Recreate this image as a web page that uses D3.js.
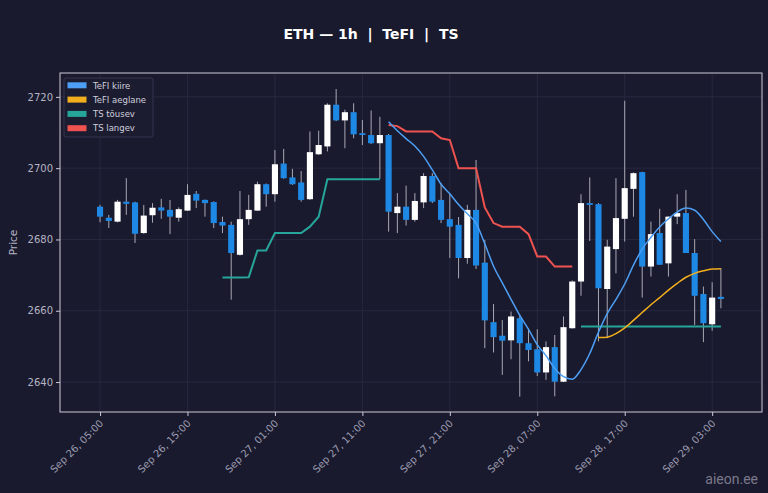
<!DOCTYPE html>
<html>
<head>
<meta charset="utf-8">
<script src="https://cdn.jsdelivr.net/npm/d3@7"></script>
<style>
  html, body { margin: 0; padding: 0; background: #1a1a2e; }
  svg { display: block; font-family: "DejaVu Sans", sans-serif; }
</style>
</head>
<body>
<svg id="chart" width="768" height="493"></svg>
<script>
// hourly candles, starting Sep 26 05:00
const opens  = [2689.2,2686.1,2685.0,2690.6,2690.4,2681.8,2686.8,2689.0,2688.3,2686.1,2688.1,2692.8,2691.1,2690.5,2684.9,2684.1,2675.7,2685.7,2688.1,2695.5,2692.7,2701.3,2697.4,2696.0,2691.3,2703.9,2706.1,2717.8,2713.4,2715.7,2709.8,2709.3,2707.0,2709.3,2687.4,2689.2,2685.5,2690.4,2697.8,2691.1,2685.7,2684.1,2674.8,2688.3,2673.5,2656.8,2653.0,2651.7,2657.9,2650.9,2649.2,2642.7,2649.8,2640.1,2655.1,2668.2,2690.2,2689.9,2666.1,2677.3,2685.8,2694.2,2698.9,2672.4,2681.8,2673.3,2686.4,2687.4,2676.2,2664.7,2656.2,2663.9];
const highs  = [2689.7,2686.9,2691.1,2697.2,2690.6,2689.7,2690.2,2691.4,2691.1,2689.0,2695.5,2693.6,2691.2,2690.7,2686.4,2685.0,2693.6,2692.5,2696.2,2695.7,2705.1,2705.4,2699.8,2699.2,2710.3,2710.5,2718.2,2722.2,2716.4,2718.2,2713.5,2716.2,2714.4,2709.6,2693.0,2695.1,2693.0,2698.6,2698.6,2695.8,2692.8,2686.3,2689.7,2702.3,2679.9,2661.9,2657.4,2659.8,2658.9,2655.1,2654.8,2651.4,2653.2,2658.4,2668.5,2692.7,2697.4,2690.2,2679.9,2697.2,2718.9,2698.8,2699.0,2685.0,2688.6,2686.5,2692.7,2693.9,2680.1,2666.8,2668.0,2672.0];
const lows   = [2684.8,2683.2,2684.8,2686.9,2679.0,2681.6,2684.7,2685.8,2681.5,2685.0,2688.0,2688.8,2686.4,2683.2,2681.8,2663.1,2675.5,2684.1,2688.0,2689.2,2690.6,2697.0,2695.3,2690.6,2691.1,2703.7,2704.7,2713.2,2705.6,2708.4,2706.5,2706.8,2697.0,2682.2,2681.8,2683.9,2685.0,2688.8,2690.2,2684.6,2674.8,2669.1,2673.2,2671.7,2649.5,2648.3,2642.0,2646.4,2635.9,2645.8,2641.7,2640.6,2636.0,2640.0,2655.0,2664.2,2679.6,2651.4,2652.3,2670.5,2679.4,2686.4,2663.7,2669.6,2672.9,2669.6,2684.3,2676.2,2656.0,2651.2,2654.4,2660.7];
const closes = [2686.4,2685.2,2690.6,2690.0,2681.6,2686.7,2688.9,2688.1,2686.4,2688.5,2692.5,2690.9,2690.2,2684.6,2683.9,2676.2,2685.7,2688.3,2695.5,2692.7,2701.1,2697.2,2695.5,2691.1,2704.5,2706.5,2717.8,2713.4,2715.7,2709.5,2709.3,2707.0,2709.3,2687.8,2689.2,2685.5,2690.8,2697.8,2690.6,2685.5,2683.6,2674.8,2688.3,2672.7,2657.3,2652.6,2651.6,2658.4,2650.9,2649.0,2642.7,2649.8,2640.1,2655.4,2668.2,2690.2,2689.7,2666.3,2678.0,2686.0,2694.4,2698.6,2672.4,2681.5,2672.9,2686.4,2687.4,2676.2,2664.2,2656.5,2663.7,2663.3];

// indicator lines: first candle index + values
const fastStart = 33;
const fastVals = [2713.0,2710.5,2708.3,2706.2,2703.3,2699.5,2695.5,2692.8,2689.8,2687.2,2684.6,2678.8,2672.5,2667.8,2663.2,2658.7,2654.8,2650.5,2647.4,2643.8,2641.5,2640.8,2643.5,2648.0,2654.0,2659.2,2663.2,2667.5,2672.8,2677.3,2680.6,2683.5,2685.8,2687.7,2688.8,2688.2,2685.6,2682.2,2679.4];
const slowStart = 57;
const slowVals = [2652.5,2652.6,2653.6,2655.2,2657.3,2659.5,2661.7,2663.7,2665.8,2667.7,2669.4,2670.5,2671.2,2671.7,2671.8];
const upStart1 = 14;
const upVals1 = [2669.3,2669.3,2669.3,2669.4,2676.9,2676.9,2681.8,2681.8,2681.8,2681.8,2683.6,2686.4,2696.9,2696.9,2696.9,2696.9,2696.9,2696.9,2696.9];
const upStart2 = 55;
const upVals2 = [2655.6,2655.6,2655.6,2655.6,2655.6,2655.6,2655.6,2655.6,2655.6,2655.6,2655.6,2655.6,2655.6,2655.6,2655.6,2655.6,2655.6];
const downStart = 33;
const downVals = [2712.1,2711.8,2710.3,2710.3,2710.3,2710.3,2708.4,2707.9,2700.0,2700.0,2700.0,2689.0,2684.6,2683.6,2683.6,2683.6,2681.5,2675.2,2675.2,2672.4,2672.4,2672.4];

const xTickIdx = [0, 10, 20, 30, 40, 50, 60, 70];
const xTickLabels = ["Sep 26, 05:00","Sep 26, 15:00","Sep 27, 01:00","Sep 27, 11:00","Sep 27, 21:00","Sep 28, 07:00","Sep 28, 17:00","Sep 29, 03:00"];
const yTicks = [2640, 2660, 2680, 2700, 2720];

const legendItems = [
  { name: "TeFI kiire", color: "#4d9ff5" },
  { name: "TeFI aeglane", color: "#f2ae1c" },
  { name: "TS tõusev", color: "#26a69a" },
  { name: "TS langev", color: "#ef5350" }
];

const plotL = 60, plotR = 762, plotT = 73, plotB = 412;
const svg = d3.select("#chart");

svg.append("rect").attr("width", 768).attr("height", 493).attr("fill", "#1a1a2e");

const x = d3.scaleLinear().domain([-4.58, 75.7]).range([plotL, plotR]);
const y = d3.scaleLinear().domain([2631.6, 2726.7]).range([plotB, plotT]);

// grid
svg.append("g")
  .selectAll("line").data(xTickIdx).enter().append("line")
  .attr("x1", d => x(d)).attr("x2", d => x(d))
  .attr("y1", plotT).attr("y2", plotB)
  .attr("stroke", "#2b2b45").attr("stroke-width", 0.8);
svg.append("g")
  .selectAll("line").data(yTicks).enter().append("line")
  .attr("x1", plotL).attr("x2", plotR)
  .attr("y1", d => y(d)).attr("y2", d => y(d))
  .attr("stroke", "#2b2b45").attr("stroke-width", 0.8);

// candles
const candles = opens.map((o, i) => ({ i, o, h: highs[i], l: lows[i], c: closes[i] }));
const bw = (x(1) - x(0)) * 0.7;

const cg = svg.append("g");
cg.selectAll("line").data(candles).enter().append("line")
  .attr("x1", d => x(d.i)).attr("x2", d => x(d.i))
  .attr("y1", d => y(d.h)).attr("y2", d => y(d.l))
  .attr("stroke", "#a8a8b4").attr("stroke-width", 1);
cg.selectAll("rect").data(candles).enter().append("rect")
  .attr("x", d => x(d.i) - bw / 2)
  .attr("width", bw)
  .attr("y", d => y(Math.max(d.o, d.c)))
  .attr("height", d => Math.max(1.2, Math.abs(y(d.o) - y(d.c))))
  .attr("fill", d => d.c >= d.o ? "#ffffff" : "#1e88e5");

// lines
const line = d3.line().x(d => x(d[0])).y(d => y(d[1]));
const lineSmooth = d3.line().x(d => x(d[0])).y(d => y(d[1])).curve(d3.curveMonotoneX);
const pts = (start, vals) => vals.map((v, k) => [start + k, v]);

svg.append("path").datum(pts(upStart1, upVals1)).attr("d", line)
  .attr("fill", "none").attr("stroke", "#26a69a").attr("stroke-width", 2);
svg.append("path").datum(pts(upStart2, upVals2)).attr("d", line)
  .attr("fill", "none").attr("stroke", "#26a69a").attr("stroke-width", 2);
svg.append("path").datum(pts(downStart, downVals)).attr("d", line)
  .attr("fill", "none").attr("stroke", "#ef5350").attr("stroke-width", 2);
svg.append("path").datum(pts(fastStart, fastVals)).attr("d", lineSmooth)
  .attr("fill", "none").attr("stroke", "#4d9ff5").attr("stroke-width", 1.5);
svg.append("path").datum(pts(slowStart, slowVals)).attr("d", lineSmooth)
  .attr("fill", "none").attr("stroke", "#f2ae1c").attr("stroke-width", 1.5);

// frame
svg.append("rect")
  .attr("x", plotL).attr("y", plotT).attr("width", plotR - plotL).attr("height", plotB - plotT)
  .attr("fill", "none").attr("stroke", "#c9c9d6").attr("stroke-width", 1);

// axes
const xAxis = d3.axisBottom(x).tickValues(xTickIdx).tickSize(4).tickFormat("");
svg.append("g").attr("transform", `translate(0,${plotB})`).call(xAxis)
  .call(g => g.select(".domain").remove())
  .call(g => g.selectAll(".tick line").attr("stroke", "#c9c9d6"));

svg.append("g").selectAll("text").data(xTickIdx).enter().append("text")
  .attr("transform", d => `translate(${x(d) + 4},${plotB + 12}) rotate(-45)`)
  .attr("text-anchor", "end")
  .attr("font-size", 10)
  .attr("fill", "#9c9cb0")
  .text((d, k) => xTickLabels[k]);

const yAxis = d3.axisLeft(y).tickValues(yTicks).tickSize(4).tickFormat(d3.format("d"));
svg.append("g").attr("transform", `translate(${plotL},0)`).call(yAxis)
  .call(g => g.select(".domain").remove())
  .call(g => g.selectAll(".tick line").attr("stroke", "#c9c9d6"))
  .call(g => g.selectAll(".tick text")
    .attr("fill", "#b4b4c4").attr("font-size", 10)
    .attr("font-family", "DejaVu Sans, sans-serif"));

svg.append("text")
  .attr("transform", `translate(17,${(plotT + plotB) / 2}) rotate(-90)`)
  .attr("text-anchor", "middle")
  .attr("font-size", 10.5)
  .attr("fill", "#b4b4c4")
  .text("Price");

// title
svg.append("text")
  .attr("x", 371).attr("y", 39)
  .attr("text-anchor", "middle")
  .attr("font-size", 14)
  .attr("font-weight", "bold")
  .attr("fill", "#ffffff")
  .style("white-space", "pre")
  .text("ETH — 1h  |  TeFI  |  TS");

// legend
const lg = svg.append("g").attr("transform", "translate(64,78)");
lg.append("rect").attr("width", 89).attr("height", 59).attr("rx", 2)
  .attr("fill", "#1c1c31").attr("stroke", "#3a3a55").attr("stroke-width", 0.8);
const li = lg.selectAll("g").data(legendItems).enter().append("g")
  .attr("transform", (d, k) => `translate(0,${7.3 + k * 14.3})`);
li.append("rect").attr("x", 3.5).attr("y", -3).attr("width", 19).attr("height", 6)
  .attr("fill", d => d.color);
li.append("text").attr("x", 29).attr("y", 3.2)
  .attr("font-size", 8.5).attr("fill", "#d0d0dc")
  .text(d => d.name);

// watermark
svg.append("text")
  .attr("x", 758).attr("y", 484)
  .attr("text-anchor", "end")
  .attr("font-family", "Roboto, sans-serif")
  .attr("font-size", 14)
  .attr("fill", "#8a8a9c")
  .attr("opacity", 0.85)
  .text("aieon.ee");
</script>
</body>
</html>
